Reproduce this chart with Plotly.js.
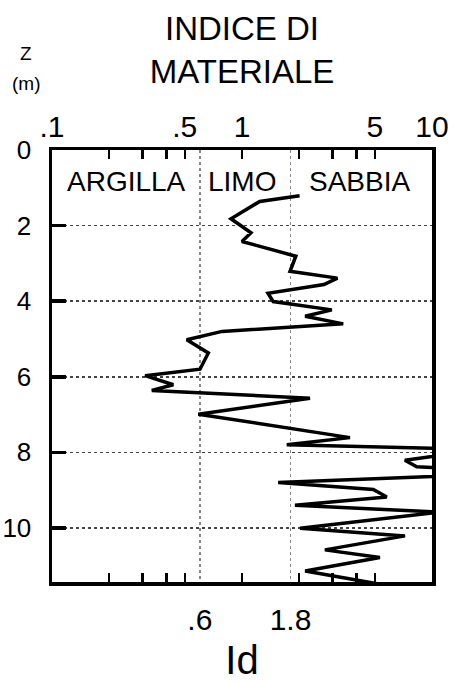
<!DOCTYPE html>
<html>
<head>
<meta charset="utf-8">
<script src="https://cdn.plot.ly/plotly-3.0.1.min.js"></script>
<style>html,body{margin:0;padding:0;background:#fff;}#chart{width:457px;height:682px;}</style>
</head>
<body>
<div id="chart"></div>
<script>
// Material index Id vs depth Z (m)
const depthZ = [1.21, 1.36, 1.82, 2.19, 2.42, 2.81, 3.21, 3.39, 3.56, 3.79, 4.01, 4.23, 4.40, 4.60, 4.80, 5.02, 5.37, 5.80, 5.97, 6.21, 6.36, 6.57, 6.99, 7.61, 7.80, 7.92, 8.21, 8.38, 8.53, 8.80, 8.98, 9.18, 9.40, 9.58, 10.01, 10.21, 10.58, 10.78, 11.14, 11.50];
const indexId = [2.01, 1.24, 0.875, 1.115, 1.00, 1.92, 1.79, 3.18, 2.70, 1.37, 1.46, 2.97, 2.15, 3.41, 0.785, 0.512, 0.665, 0.601, 0.309, 0.435, 0.335, 2.28, 0.589, 3.70, 1.72, 18.5, 7.20, 8.31, 36.6, 1.55, 4.91, 5.78, 1.90, 11.0, 2.02, 7.21, 2.73, 5.32, 2.15, 5.5];

const topTickVals = [0.1, 0.5, 1, 5, 10];
const topTickText = ['.1', '.5', '1', '5', '10'];
const boundaryVals = [0.6, 1.8];
const boundaryText = ['.6', '1.8'];
const minorTickVals = [0.2, 0.3, 0.4, 0.5, 1, 2, 3, 4, 5];
const depthTicks = [0, 2, 4, 6, 8, 10];
const soilClasses = ['ARGILLA', 'LIMO', 'SABBIA'];
const soilClassPos = [0.195, 0.5, 0.81];

const FONT = 'Liberation Sans, Arial, sans-serif';

const trace = {
  x: indexId, y: depthZ, type: 'scatter', mode: 'lines',
  line: {color: '#000', width: 3.5},
  xaxis: 'x', yaxis: 'y', showlegend: false, hoverinfo: 'skip'
};

const minorCommon = {tickmode: 'array', tickvals: minorTickVals, ticks: 'inside', ticklen: 9, tickwidth: 2.5, tickcolor: '#000', showgrid: false};

const layout = {
  width: 457, height: 682,
  margin: {l: 52, r: 25, t: 150, b: 100, pad: 0},
  paper_bgcolor: '#fff', plot_bgcolor: '#fff',
  font: {family: FONT, color: '#000'},
  showlegend: false,
  title: {text: 'INDICE DI<br>MATERIALE', font: {family: FONT, size: 33, color: '#000'}, x: 0.5, xref: 'paper', xanchor: 'center', y: 0.941, yref: 'container', yanchor: 'middle'},
  xaxis: {
    type: 'log', range: [-1, 1], side: 'bottom',
    tickmode: 'array', tickvals: boundaryVals, ticktext: boundaryText,
    ticks: '', ticklabelstandoff: 8,
    tickfont: {family: FONT, size: 30, color: '#000'},
    showgrid: true, gridcolor: '#888', gridwidth: 1.5, griddash: '3px,3px',
    showline: true, mirror: true, linecolor: '#000', linewidth: 3.5,
    zeroline: false, fixedrange: true,
    minor: minorCommon,
    title: {text: 'Id', font: {family: FONT, size: 40, color: '#000'}, standoff: 18}
  },
  xaxis2: {
    type: 'log', range: [-1, 1], side: 'top', overlaying: 'x', anchor: 'y',
    tickmode: 'array', tickvals: topTickVals, ticktext: topTickText,
    ticks: '', ticklabelstandoff: 6,
    tickfont: {family: FONT, size: 30, color: '#000'},
    showgrid: false, showline: false, zeroline: false, fixedrange: true,
    minor: minorCommon
  },
  yaxis: {
    range: [11.43, 0], tickmode: 'array', tickvals: depthTicks,
    ticks: 'inside', ticklen: 14, tickwidth: 3.5, tickcolor: '#000',
    ticklabelstandoff: 12,
    tickfont: {family: FONT, size: 26, color: '#000'},
    showgrid: true, gridcolor: '#444', gridwidth: 1.5, griddash: '3px,3px',
    showline: true, mirror: true, linecolor: '#000', linewidth: 3.5,
    zeroline: false, fixedrange: true
  },
  annotations: soilClasses.map((t, i) => ({
    text: t, xref: 'paper', yref: 'paper', x: soilClassPos[i], y: 0.926,
    xanchor: 'center', yanchor: 'middle', showarrow: false,
    font: {family: FONT, size: 28, color: '#000'}
  })).concat([
    {text: 'Z', xref: 'paper', yref: 'paper', x: -0.068, y: 1.2245, xanchor: 'center', yanchor: 'middle', showarrow: false, font: {family: FONT, size: 19, color: '#000'}},
    {text: '(m)', xref: 'paper', yref: 'paper', x: -0.068, y: 1.155, xanchor: 'center', yanchor: 'middle', showarrow: false, font: {family: FONT, size: 19, color: '#000'}}
  ])
};

Plotly.newPlot('chart', [trace, {x: [0.1], y: [0], xaxis: 'x2', yaxis: 'y', mode: 'markers', marker: {opacity: 0}, showlegend: false, hoverinfo: 'skip'}], layout, {staticPlot: true, displayModeBar: false});
</script>
</body>
</html>
